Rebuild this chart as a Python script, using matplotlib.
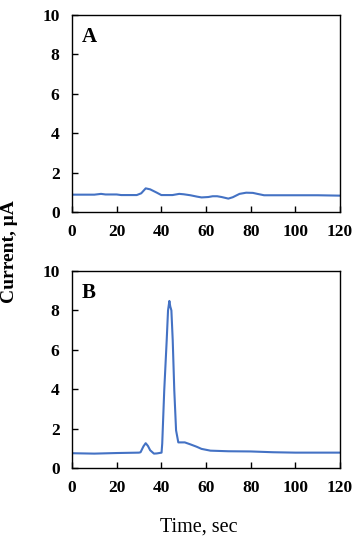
import numpy as np
import matplotlib.pyplot as plt

# panel A
time_a = [0, 10, 13, 15, 20, 22, 29, 31, 33, 35, 38, 40, 45, 48, 50, 53, 56, 58, 61, 63, 65, 67, 70, 72, 75, 78, 81, 83, 86, 90, 100, 110, 120]
curr_a = [0.88, 0.88, 0.92, 0.89, 0.89, 0.86, 0.86, 0.95, 1.2, 1.15, 0.98, 0.86, 0.86, 0.92, 0.9, 0.85, 0.78, 0.74, 0.76, 0.8, 0.8, 0.76, 0.68, 0.75, 0.92, 0.98, 0.97, 0.92, 0.85, 0.85, 0.85, 0.85, 0.83]

# panel B
time_b = [0, 10, 20, 30, 30.7, 32, 33, 34, 35, 36.7, 38, 40.1, 40.4, 41.3, 42.4, 43.0, 43.6, 44.0, 44.5, 45.1, 45.8, 46.6, 47.6, 50.5, 53, 55.8, 58, 62, 70, 80, 90, 100, 110, 120]
curr_b = [0.75, 0.73, 0.76, 0.78, 0.8, 1.1, 1.26, 1.12, 0.9, 0.73, 0.74, 0.78, 1.24, 3.94, 6.48, 8.0, 8.48, 8.2, 8.0, 6.48, 3.94, 1.91, 1.3, 1.3, 1.2, 1.08, 0.97, 0.88, 0.85, 0.84, 0.8, 0.78, 0.78, 0.78]

plt.rcParams['font.family'] = 'Liberation Serif'
plt.rcParams['font.weight'] = 'bold'

fig = plt.figure(figsize=(3.53, 5.39), dpi=100)
ax1 = fig.add_axes([72/353, 1-212/539, 268/353, 197/539])
ax2 = fig.add_axes([72/353, 1-468/539, 268/353, 197/539])

for ax, t, c, lab in [(ax1, time_a, curr_a, 'A'), (ax2, time_b, curr_b, 'B')]:
    ax.plot(t, c, color='#4472C4', lw=1.5)
    ax.set_xlim(0, 120)
    ax.set_ylim(0, 10)
    ax.set_xticks(np.arange(0, 121, 20))
    ax.set_yticks(np.arange(0, 11, 2))
    ax.tick_params(direction='in', length=4, width=1, labelsize=12.5, pad=9)
    for s in ax.spines.values():
        s.set_linewidth(1)
    ax.text(4.5, 8.65, lab, fontsize=15, fontweight='bold', va='baseline')

fig.text(10/353, 1-252/539, 'Current, μA', rotation=90, ha='center', va='center',
         fontsize=14, fontweight='bold')
fig.text(199/353, 1-527/539, 'Time, sec', ha='center', va='center',
         fontsize=14.5, fontweight='normal')

fig.savefig('out.png', dpi=100)
